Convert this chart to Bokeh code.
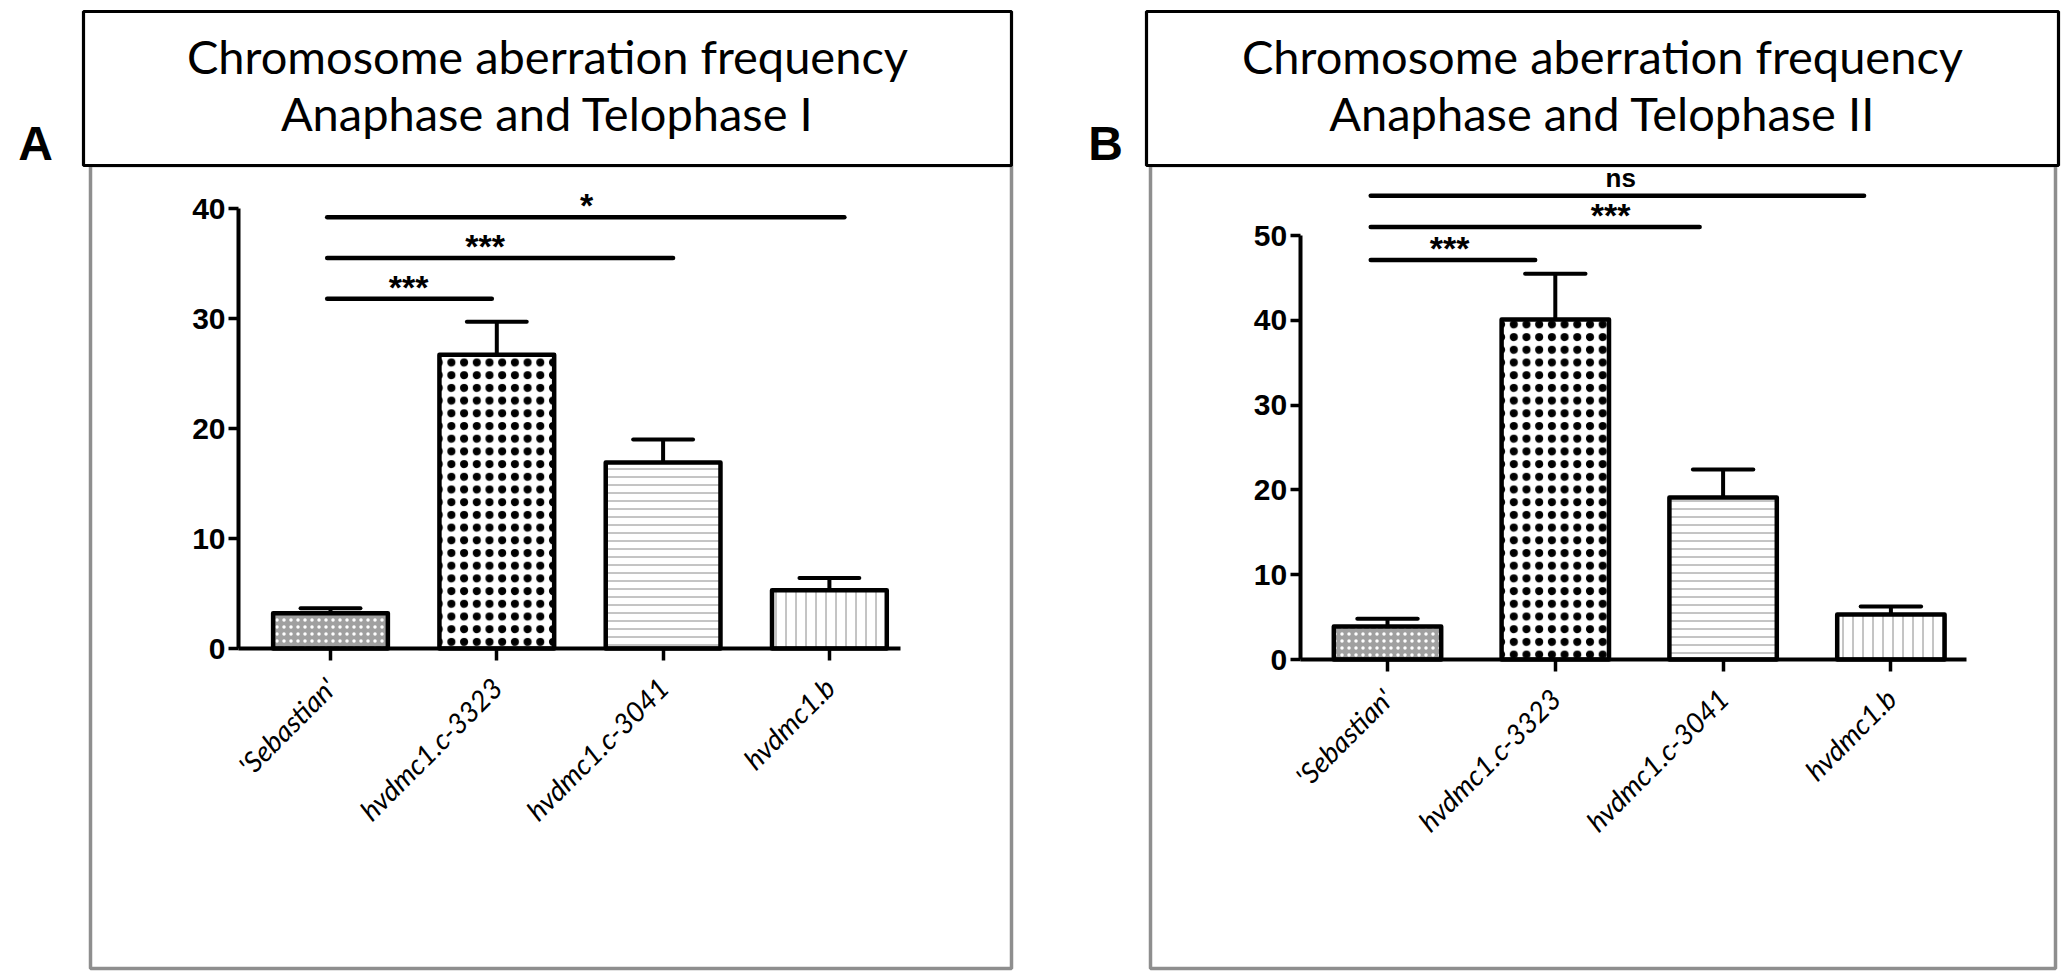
import math
from bokeh.plotting import figure
from bokeh.models import (Range1d, FixedTicker, Label, ColumnDataSource, LinearAxis,
                          BoxAnnotation)
from bokeh.layouts import row
from bokeh.embed import file_html
from bokeh.resources import INLINE
from bokeh.core.properties import value

# ---------------- data ----------------
categories = ["'Sebastian'", "hvdmc1.c-3323", "hvdmc1.c-3041", "hvdmc1.b"]
positions = [1, 2, 3, 4]

a_title = ["Chromosome aberration frequency", "Anaphase and Telophase I"]
a_means = [3.2, 26.7, 16.9, 5.3]
a_sem = [0.45, 3.0, 2.1, 1.1]
a_yticks = [0, 10, 20, 30, 40]
a_sig_start = [0.98, 0.98, 0.98]
a_sig_end = [1.97, 3.06, 4.09]
a_sig_y = [31.8, 35.5, 39.2]
a_sig_text = ["***", "***", "*"]
a_sig_text_x = [1.47, 1.93, 2.54]

b_title = ["Chromosome aberration frequency", "Anaphase and Telophase II"]
b_means = [3.9, 40.1, 19.1, 5.3]
b_sem = [0.9, 5.4, 3.3, 0.95]
b_yticks = [0, 10, 20, 30, 40, 50]
b_sig_start = [0.9, 0.9, 0.9]
b_sig_end = [1.88, 2.86, 3.84]
b_sig_y = [47.1, 51.0, 54.7]
b_sig_text = ["***", "***", "ns"]
b_sig_text_x = [1.37, 2.33, 2.39]

# ---------------- styles ----------------
bar_fill = ["#a0a0a0", "white", "white", "white"]
bar_hatch = [".", ".", "-", "|"]
bar_hatch_color = ["white", "black", "#8a8a8a", "#8a8a8a"]
bar_hatch_scale = [7, 12.7, 8, 10]
bar_ring_weight = [0, 1.7, 0, 0]
GRAY = "#8e8e8e"
H = 976


def make_panel(letter, title, means, sem, yticks, W, x_px1, x_unit, y_px0, y_unit,
               axis_x0, axis_x1, bar_w,
               sig_start, sig_end, sig_y, sig_text, sig_text_x, sig_sizes, sig_off,
               deco):
    # data ranges chosen so that the whole canvas is the frame
    xs = 1 - x_px1 / x_unit
    xe = xs + W / x_unit
    ys = -(H - y_px0) / y_unit
    ye = y_px0 / y_unit
    p = figure(width=W, height=H, x_range=Range1d(xs, xe), y_range=Range1d(ys, ye),
               x_axis_type=None, y_axis_type=None, output_backend="svg",
               toolbar_location=None, min_border=0, min_border_left=0,
               min_border_right=0, min_border_top=0, min_border_bottom=0)
    p.grid.visible = False
    p.outline_line_color = None
    p.background_fill_color = "white"
    p.border_fill_color = "white"

    def sy(c):
        return H - c

    # ---- decorations (panel frame, title box, letter, title text) ----
    gl, gt, gr, gb = deco["frame"]
    p.add_layout(BoxAnnotation(left=gl, right=gr, top=sy(gt), bottom=sy(gb),
                               left_units="screen", right_units="screen",
                               top_units="screen", bottom_units="screen",
                               fill_color=None, fill_alpha=0,
                               line_color=GRAY, line_alpha=1, line_width=3.5))
    tl, tt, tr, tb = deco["tbox"]
    p.add_layout(BoxAnnotation(left=tl, right=tr, top=sy(tt), bottom=sy(tb),
                               left_units="screen", right_units="screen",
                               top_units="screen", bottom_units="screen",
                               fill_color="white", fill_alpha=1,
                               line_color="black", line_alpha=1, line_width=3.2))
    lx, ly = deco["letter"]
    p.add_layout(Label(x=lx, y=sy(ly), x_units="screen", y_units="screen",
                       text=letter, text_font="Liberation Sans", text_font_style="bold",
                       text_font_size="48px", text_align="center", text_baseline="middle",
                       text_color="black"))
    cx = (tl + tr) / 2
    for line, yy in zip(title, (55, 112)):
        p.add_layout(Label(x=cx, y=sy(yy), x_units="screen", y_units="screen",
                           text=line, text_font="Lato", text_font_size="47px",
                           text_align="center", text_baseline="middle", text_color="black"))

    # ---- bars ----
    for i in range(len(positions)):
        src = ColumnDataSource(dict(x=[positions[i]], top=[means[i]]))
        p.vbar(x="x", top="top", bottom=0, width=bar_w, source=src,
               fill_color=bar_fill[i], hatch_pattern=bar_hatch[i],
               hatch_color=bar_hatch_color[i], hatch_scale=bar_hatch_scale[i],
               line_color=None)
        if bar_ring_weight[i] > 0:
            p.vbar(x="x", top="top", bottom=0, width=bar_w, source=src,
                   fill_color=None, hatch_pattern="o",
                   hatch_color=bar_hatch_color[i], hatch_scale=bar_hatch_scale[i],
                   hatch_weight=bar_ring_weight[i], line_color=None)
        p.vbar(x="x", top="top", bottom=0, width=bar_w, source=src,
               fill_color=None, line_color="black", line_width=4.5, line_join="round")

    # ---- error bars (upper SEM) ----
    ups = [m + s for m, s in zip(means, sem)]
    p.segment(x0=positions, y0=means, x1=positions, y1=ups, line_color="black", line_width=4)
    p.segment(x0=[x - 0.18 for x in positions], y0=ups, x1=[x + 0.18 for x in positions], y1=ups,
              line_color="black", line_width=4, line_cap="round")

    # ---- significance brackets ----
    p.segment(x0=sig_start, y0=sig_y, x1=sig_end, y1=sig_y, line_color="black",
              line_width=4.5, line_cap="round")
    tsrc = ColumnDataSource(dict(x=sig_text_x, y=sig_y, t=sig_text, fs=sig_sizes, off=sig_off))
    p.text(x="x", y="y", text="t", source=tsrc, text_font=value("Liberation Sans"),
           text_font_style="bold", text_font_size="fs", y_offset="off",
           text_align="center", text_baseline="alphabetic", text_color="black")

    # ---- axes (placed at data locations inside the frame) ----
    yax = LinearAxis(fixed_location=axis_x0, bounds=(yticks[0], yticks[-1]),
                     ticker=FixedTicker(ticks=yticks))
    yax.axis_line_width = 4
    yax.axis_line_color = "black"
    yax.major_tick_line_width = 3.5
    yax.major_tick_out = 10
    yax.major_tick_in = 0
    yax.minor_tick_line_color = None
    yax.major_label_text_font = "Liberation Sans"
    yax.major_label_text_font_style = "bold"
    yax.major_label_text_font_size = "30px"
    yax.major_label_text_color = "black"
    yax.major_label_standoff = 3
    p.add_layout(yax, "left")

    xax = LinearAxis(fixed_location=0, bounds=(axis_x0, axis_x1),
                     ticker=FixedTicker(ticks=positions))
    xax.major_label_overrides = {pos: lab for pos, lab in zip(positions, categories)}
    xax.axis_line_width = 4
    xax.axis_line_color = "black"
    xax.major_tick_line_width = 3.5
    xax.major_tick_out = 12
    xax.major_tick_in = 0
    xax.minor_tick_line_color = None
    xax.major_label_orientation = math.pi / 4
    xax.major_label_text_font = "Lato"
    xax.major_label_text_font_style = "italic"
    xax.major_label_text_font_size = "28px"
    xax.major_label_text_color = "black"
    xax.major_label_standoff = 22
    p.add_layout(xax, "below")
    return p


pA = make_panel("A", a_title, a_means, a_sem, a_yticks, W=1037,
                x_px1=330, x_unit=166.3, y_px0=648, y_unit=11.0,
                axis_x0=0.447, axis_x1=4.43, bar_w=0.69,
                sig_start=a_sig_start, sig_end=a_sig_end, sig_y=a_sig_y,
                sig_text=a_sig_text, sig_text_x=a_sig_text_x,
                sig_sizes=["34px", "34px", "34px"], sig_off=[-12, -12, -12],
                deco=dict(frame=(90, 165, 1011, 968), tbox=(83, 11, 1011, 165),
                          letter=(35, 143)))

pB = make_panel("B", b_title, b_means, b_sem, b_yticks, W=1029,
                x_px1=350, x_unit=167.8, y_px0=659, y_unit=8.48,
                axis_x0=0.48, axis_x1=4.45, bar_w=0.64,
                sig_start=b_sig_start, sig_end=b_sig_end, sig_y=b_sig_y,
                sig_text=b_sig_text, sig_text_x=b_sig_text_x,
                sig_sizes=["34px", "34px", "26px"], sig_off=[-12, -12, -18],
                deco=dict(frame=(113, 165, 1018, 968), tbox=(109, 11, 1021, 165),
                          letter=(68, 143)))

layout = row(pA, pB)
open("out.html", "w").write(file_html(layout, INLINE))
